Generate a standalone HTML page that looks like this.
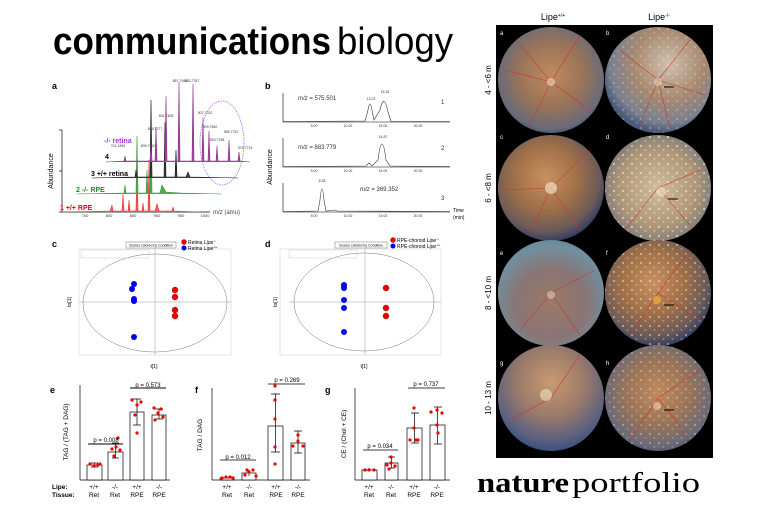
<!DOCTYPE html>
<html><head><meta charset="utf-8"><style>
html,body{margin:0;padding:0;background:#fff;}
svg{display:block;font-family:"Liberation Sans",sans-serif;}
</style></head><body>
<svg width="768" height="512" viewBox="0 0 768 512" xmlns="http://www.w3.org/2000/svg">
<defs>
<radialGradient id="fa" cx="0.5" cy="0.45" r="0.6">
<stop offset="0" stop-color="#c08a60"/><stop offset="0.5" stop-color="#9a7458"/><stop offset="0.85" stop-color="#6a6a78"/><stop offset="1" stop-color="#3a4a6a"/></radialGradient>
<radialGradient id="fb" cx="0.6" cy="0.35" r="0.65">
<stop offset="0" stop-color="#d0c0b0"/><stop offset="0.5" stop-color="#a88a70"/><stop offset="0.85" stop-color="#7a8090"/><stop offset="1" stop-color="#4a5a78"/></radialGradient>
<radialGradient id="fc" cx="0.45" cy="0.4" r="0.6">
<stop offset="0" stop-color="#c89060"/><stop offset="0.5" stop-color="#a07048"/><stop offset="0.85" stop-color="#6a5a5a"/><stop offset="1" stop-color="#3a4060"/></radialGradient>
<radialGradient id="fd" cx="0.5" cy="0.5" r="0.6">
<stop offset="0" stop-color="#d0bca0"/><stop offset="0.6" stop-color="#b09878"/><stop offset="1" stop-color="#6a7080"/></radialGradient>
<radialGradient id="fe" cx="0.5" cy="0.6" r="0.65">
<stop offset="0" stop-color="#9a7a6a"/><stop offset="0.5" stop-color="#8a7474"/><stop offset="0.85" stop-color="#7090a0"/><stop offset="1" stop-color="#5a8090"/></radialGradient>
<radialGradient id="fg" cx="0.5" cy="0.35" r="0.65">
<stop offset="0" stop-color="#c89a70"/><stop offset="0.5" stop-color="#9a7a6a"/><stop offset="0.85" stop-color="#5a6080"/><stop offset="1" stop-color="#3a5080"/></radialGradient>
<pattern id="sp" width="9" height="9" patternUnits="userSpaceOnUse">
<circle cx="2" cy="2" r="1.1" fill="#fff4d8" opacity="0.6"/><circle cx="6.5" cy="6" r="0.9" fill="#fff4d8" opacity="0.5"/></pattern>
</defs>

<!-- header -->
<text x="53" y="54" font-size="38" font-weight="bold" textLength="278" lengthAdjust="spacingAndGlyphs">communications</text>
<text x="337" y="54" font-size="38" textLength="116" lengthAdjust="spacingAndGlyphs">biology</text>

<!-- panel a -->
<text x="52" y="89" font-size="9" font-weight="bold">a</text>
<g stroke="#000" stroke-width="0.7" fill="none">
<line x1="62" y1="130" x2="62" y2="212"/><line x1="59" y1="212" x2="210" y2="212"/>
<line x1="59" y1="130" x2="62" y2="130"/><line x1="59" y1="171" x2="62" y2="171"/>
</g>
<text font-size="7" transform="translate(53,171) rotate(-90)" text-anchor="middle">Abundance</text>
<g font-size="4" fill="#333" text-anchor="middle"><text x="85" y="217">750</text><text x="109" y="217">800</text><text x="133" y="217">850</text><text x="157" y="217">900</text><text x="181" y="217">950</text><text x="205" y="217">1000</text></g>
<text x="213" y="214" font-size="6" fill="#444"><tspan font-style="italic">m/z</tspan> (amu)</text>
<path d="M62 212 L110 211 L112 205 L113 211 L122 211 L123 194 L124 211 L128 211 L129 200 L130 211 L136 211 L137 152 L138 211 L142 211 L143 203 L144 211 L148 211 L149 160 L150 211 L155 211 L157 204 L159 211 L172 211 L173 207 L174 211 L200 212" fill="#f55" stroke="#e33" stroke-width="0.6"/>
<text x="60" y="210" font-size="7" fill="#e00" font-weight="bold">1 +/+ RPE</text>
<path d="M77 194 L124 193 L125 185 L126 193 L136 193 L137 136 L138 193 L146 193 L147 170 L148 193 L150 193 L151 114 L152 193 L160 193 L162 185 L166 192 L180 193 L222 194" fill="#5a5" stroke="#393" stroke-width="0.6"/>
<text x="76" y="192" font-size="7" fill="#282" font-weight="bold">2 -/- RPE</text>
<path d="M92 178 L135 177 L136 170 L137 177 L150 177 L151 100 L152 177 L164 177 L165 122 L166 177 L175 177 L176 150 L177 177 L186 177 L188 172 L190 177 L238 178" fill="#444" stroke="#111" stroke-width="0.6"/>
<text x="91" y="176" font-size="7" fill="#000" font-weight="bold">3 +/+ retina</text>
<path d="M106 162 L124 161 L125 156 L126 161 L150 161 L151 143 L152 161 L155 161 L156 127 L157 161 L165 161 L166 96 L167 161 L178 161 L179 82 L180 161 L192 161 L193 84 L194 161 L202 161 L203 118 L204 161 L208 161 L209 131 L210 161 L216 161 L217 146 L218 161 L228 161 L229 140 L230 161 L238 161 L239 152 L240 161 L250 162" fill="#a4a" stroke="#838" stroke-width="0.6"/>
<text x="104" y="143" font-size="7" fill="#a3e" font-weight="bold">-/- retina</text>
<text x="105" y="159" font-size="7" font-weight="bold">4</text>
<g font-size="3.5" fill="#333" text-anchor="middle"><text x="118" y="147">741.1845</text><text x="148" y="147">805.7310</text><text x="155" y="130">829.7277</text><text x="166" y="117">831.7408</text><text x="180" y="82">857.7941</text><text x="192" y="82">883.7787</text><text x="205" y="114">907.7702</text><text x="210" y="128">909.7840</text><text x="217" y="141">933.7798</text><text x="231" y="133">955.7720</text><text x="245" y="149">979.7719</text></g>
<ellipse cx="222" cy="143" rx="22" ry="42" fill="none" stroke="#a6f" stroke-width="0.8" stroke-dasharray="1.5 1"/>

<!-- panel b -->
<text x="265" y="89" font-size="9" font-weight="bold">b</text>
<text font-size="7" transform="translate(272,167) rotate(-90)" text-anchor="middle">Abundance</text>
<g stroke="#000" stroke-width="0.6" fill="none">
<line x1="283" y1="93" x2="283" y2="122"/><line x1="283" y1="122" x2="450" y2="122"/>
<line x1="283" y1="138" x2="283" y2="167"/><line x1="283" y1="167" x2="450" y2="167"/>
<line x1="283" y1="183" x2="283" y2="212"/><line x1="283" y1="212" x2="450" y2="212"/>
<path d="M283 121.5 L365 121 L368 110 Q370 98 372 110 L374 120 L380 110 Q384 92 388 112 L391 121.5 L450 121.5" stroke="#333"/>
<path d="M283 166.5 L366 166 L369 163 L372 166 L378 160 Q382 128 386 160 L390 166 L450 166.5" stroke="#333"/>
<path d="M283 211.5 L318 211 L320 200 Q322 178 324 200 L326 211 L335 210 L337 211 L450 211.5" stroke="#333"/>
</g>
<g font-size="3.5" fill="#333" text-anchor="middle"><text x="314" y="127">5.00</text><text x="348" y="127">10.00</text><text x="383" y="127">15.00</text><text x="418" y="127">20.00</text>
<text x="314" y="172">5.00</text><text x="348" y="172">10.00</text><text x="383" y="172">15.00</text><text x="418" y="172">20.00</text>
<text x="314" y="217">5.00</text><text x="348" y="217">10.00</text><text x="383" y="217">15.00</text><text x="418" y="217">20.00</text>
<text x="371" y="100">13.23</text><text x="385" y="93">15.16</text><text x="383" y="138">14.87</text><text x="322" y="182">6.38</text></g>
<g font-size="6" fill="#333"><text x="298" y="100"><tspan font-style="italic">m/z</tspan> = 575.501</text><text x="298" y="149"><tspan font-style="italic">m/z</tspan> = 883.779</text><text x="360" y="191"><tspan font-style="italic">m/z</tspan> = 369.352</text>
<text x="441" y="104">1</text><text x="441" y="150">2</text><text x="441" y="200">3</text></g>
<text x="453" y="212" font-size="5">Time</text><text x="453" y="219" font-size="5">(min)</text>

<!-- panel c / d -->
<text x="52" y="247" font-size="9" font-weight="bold">c</text>
<g stroke="#999" stroke-width="0.5" fill="none">
<rect x="79" y="249" width="152" height="106" stroke="#ccc"/>
<line x1="79" y1="302" x2="231" y2="302"/><line x1="155" y1="249" x2="155" y2="355"/>
<ellipse cx="155" cy="303" rx="72" ry="49" stroke="#777"/>
<rect x="126" y="242" width="50" height="6" stroke="#777"/>
<rect x="81" y="250" width="68" height="8" stroke="#ccc"/>
<line x1="289" y1="302" x2="441" y2="302"/>
<rect x="280" y="249" width="161" height="106" stroke="#ccc"/>
<line x1="365" y1="249" x2="365" y2="355"/>
<ellipse cx="364" cy="302" rx="70" ry="49" stroke="#777"/>
<rect x="335" y="242" width="52" height="6" stroke="#777"/>
<rect x="289" y="250" width="68" height="8" stroke="#ccc"/>
</g>
<text x="151" y="246.5" font-size="3.5" text-anchor="middle">Scores colored by Condition</text>
<text x="361" y="246.5" font-size="3.5" text-anchor="middle">Scores colored by Condition</text>
<g fill="#00e"><circle cx="134" cy="284" r="3"/><circle cx="132" cy="289" r="3"/><circle cx="134" cy="299" r="3"/><circle cx="134" cy="301" r="3"/><circle cx="134" cy="337" r="3"/>
<circle cx="184" cy="248" r="2.5"/>
<circle cx="344" cy="285" r="3"/><circle cx="344" cy="288" r="3"/><circle cx="344" cy="300" r="3"/><circle cx="344" cy="308" r="3"/><circle cx="344" cy="332" r="3"/>
<circle cx="393" cy="246" r="2.5"/></g>
<g fill="#e00" stroke="#800" stroke-width="0.4"><circle cx="175" cy="290" r="3"/><circle cx="175" cy="297" r="3"/><circle cx="175" cy="310" r="3"/><circle cx="175" cy="316" r="3"/>
<circle cx="184" cy="242" r="2.5"/>
<circle cx="386" cy="288" r="3"/><circle cx="386" cy="308" r="3"/><circle cx="386" cy="316" r="3"/>
<circle cx="393" cy="240" r="2.5"/></g>
<g font-size="5"><text x="188" y="244">Retina <tspan font-style="italic">Lipe</tspan><tspan font-size="3" dy="-2">-/-</tspan></text><text x="188" y="250">Retina <tspan font-style="italic">Lipe</tspan><tspan font-size="3" dy="-2">+/+</tspan></text>
<text x="397" y="242">RPE-choroid <tspan font-style="italic">Lipe</tspan><tspan font-size="3" dy="-2">-/-</tspan></text><text x="397" y="248">RPE-choroid <tspan font-style="italic">Lipe</tspan><tspan font-size="3" dy="-2">+/+</tspan></text>
<text x="154" y="368" text-anchor="middle">t[1]</text><text x="364" y="368" text-anchor="middle">t[1]</text></g>
<text font-size="5" transform="translate(71,302) rotate(-90)" text-anchor="middle">to[1]</text>
<text font-size="5" transform="translate(277,302) rotate(-90)" text-anchor="middle">to[1]</text>
<text x="265" y="247" font-size="9" font-weight="bold">d</text>

<!-- panels e f g -->
<text x="50" y="393" font-size="9" font-weight="bold">e</text>
<text x="195" y="393" font-size="9" font-weight="bold">f</text>
<text x="325" y="393" font-size="9" font-weight="bold">g</text>
<g stroke="#000" stroke-width="0.7" fill="#fff">
<line x1="80" y1="385" x2="80" y2="480"/><line x1="80" y1="480" x2="170" y2="480"/>
<rect x="87" y="465" width="15" height="15"/><rect x="108" y="452" width="15" height="28"/><rect x="130" y="412" width="14" height="68"/><rect x="152" y="415" width="14" height="65"/>
<path d="M94.5 463 v4 M91 463 h7 M91 467 h7 M115.5 443 v15 M112 443 h7 M112 458 h7 M137 399 v26 M133 399 h8 M133 425 h8 M159 409 v10 M155 409 h8 M155 419 h8" fill="none"/>
<path d="M88 444 h35 M130 388 h36" fill="none" stroke-width="1"/>
<line x1="212" y1="388" x2="212" y2="480"/><line x1="212" y1="480" x2="310" y2="480"/>
<rect x="220" y="478" width="14" height="2"/><rect x="242" y="473" width="14" height="7"/><rect x="268" y="426" width="15" height="54"/><rect x="291" y="443" width="14" height="37"/>
<path d="M249 470 v6 M275.5 394 v58 M271 394 h9 M271 452 h9 M298 431 v22 M294 431 h8 M294 453 h8 M220 460 h36 M268 384 h37" fill="none"/>
<line x1="355" y1="388" x2="355" y2="480"/><line x1="355" y1="480" x2="450" y2="480"/>
<rect x="362" y="470" width="15" height="10"/><rect x="385" y="463" width="13" height="17"/><rect x="407" y="428" width="15" height="52"/><rect x="430" y="425" width="15" height="55"/>
<path d="M369.5 468 v3 M391.5 457 v11 M388 457 h7 M388 468 h7 M414.5 413 v30 M411 413 h8 M411 443 h8 M437.5 407 v37 M434 407 h8 M434 444 h8 M363 450 h35 M408 388 h37" fill="none"/>
</g>
<g fill="#e00">
<circle cx="90" cy="464" r="1.6"/><circle cx="94" cy="466" r="1.6"/><circle cx="98" cy="465" r="1.6"/><circle cx="100" cy="464" r="1.6"/>
<circle cx="112" cy="449" r="1.6"/><circle cx="116" cy="447" r="1.6"/><circle cx="120" cy="450" r="1.6"/><circle cx="114" cy="456" r="1.6"/><circle cx="118" cy="438" r="1.6"/>
<circle cx="132" cy="400" r="1.6"/><circle cx="137" cy="405" r="1.6"/><circle cx="141" cy="402" r="1.6"/><circle cx="137" cy="433" r="1.6"/><circle cx="135" cy="415" r="1.6"/>
<circle cx="154" cy="408" r="1.6"/><circle cx="158" cy="413" r="1.6"/><circle cx="163" cy="417" r="1.6"/><circle cx="155" cy="420" r="1.6"/><circle cx="161" cy="409" r="1.6"/>
<circle cx="222" cy="478" r="1.6"/><circle cx="226" cy="477" r="1.6"/><circle cx="230" cy="477" r="1.6"/><circle cx="233" cy="478" r="1.6"/>
<circle cx="245" cy="475" r="1.6"/><circle cx="249" cy="472" r="1.6"/><circle cx="253" cy="470" r="1.6"/><circle cx="256" cy="476" r="1.6"/><circle cx="247" cy="470" r="1.6"/>
<circle cx="275" cy="386" r="1.6"/><circle cx="275" cy="400" r="1.6"/><circle cx="275" cy="419" r="1.6"/><circle cx="275" cy="447" r="1.6"/><circle cx="275" cy="464" r="1.6"/>
<circle cx="293" cy="446" r="1.6"/><circle cx="298" cy="435" r="1.6"/><circle cx="303" cy="446" r="1.6"/><circle cx="298" cy="441" r="1.6"/>
<circle cx="365" cy="470" r="1.6"/><circle cx="369" cy="470" r="1.6"/><circle cx="374" cy="470" r="1.6"/>
<circle cx="387" cy="465" r="1.6"/><circle cx="391" cy="463" r="1.6"/><circle cx="395" cy="466" r="1.6"/><circle cx="391" cy="457" r="1.6"/><circle cx="389" cy="469" r="1.6"/>
<circle cx="414" cy="408" r="1.6"/><circle cx="410" cy="440" r="1.6"/><circle cx="418" cy="440" r="1.6"/><circle cx="414" cy="428" r="1.6"/><circle cx="416" cy="440" r="1.6"/>
<circle cx="431" cy="412" r="1.6"/><circle cx="437" cy="410" r="1.6"/><circle cx="442" cy="413" r="1.6"/><circle cx="437" cy="425" r="1.6"/><circle cx="438" cy="433" r="1.6"/>
</g>
<g font-size="6" text-anchor="middle"><text x="106" y="442">p = 0.008</text><text x="148" y="387">p = 0.573</text><text x="238" y="459">p = 0.012</text><text x="287" y="382">p = 0.269</text><text x="380" y="448">p = 0.034</text><text x="426" y="386">p = 0.737</text></g>
<g font-size="6.5" text-anchor="middle">
<text transform="translate(68,432) rotate(-90)">TAG / (TAG + DAG)</text>
<text transform="translate(202,435) rotate(-90)">TAG / DAG</text>
<text transform="translate(346,434) rotate(-90)">CE / (Chol + CE)</text>
</g>
<g font-size="6.5" font-weight="bold"><text x="52" y="489">Lipe:</text><text x="52" y="497">Tissue:</text></g>
<g font-size="6.5" text-anchor="middle">
<text x="94" y="489">+/+</text><text x="115" y="489">-/-</text><text x="137" y="489">+/+</text><text x="159" y="489">-/-</text>
<text x="94" y="497">Ret</text><text x="115" y="497">Ret</text><text x="137" y="497">RPE</text><text x="159" y="497">RPE</text>
<text x="227" y="489">+/+</text><text x="249" y="489">-/-</text><text x="276" y="489">+/+</text><text x="298" y="489">-/-</text>
<text x="227" y="497">Ret</text><text x="249" y="497">Ret</text><text x="276" y="497">RPE</text><text x="298" y="497">RPE</text>
<text x="369" y="489">+/+</text><text x="391" y="489">-/-</text><text x="414" y="489">+/+</text><text x="437" y="489">-/-</text>
<text x="369" y="497">Ret</text><text x="391" y="497">Ret</text><text x="414" y="497">RPE</text><text x="437" y="497">RPE</text>
</g>

<!-- fundus panel -->
<text x="553" y="20" font-size="9" text-anchor="middle">Lipe<tspan font-size="5" dy="-3">+/+</tspan></text>
<text x="659" y="20" font-size="9" text-anchor="middle">Lipe<tspan font-size="5" dy="-3">-/-</tspan></text>
<rect x="496" y="25" width="217" height="433" fill="#000"/>
<circle cx="551" cy="80" r="53" fill="url(#fa)"/>
<circle cx="658" cy="80" r="53" fill="url(#fb)"/>
<circle cx="551" cy="188" r="53" fill="url(#fc)"/>
<circle cx="658" cy="188" r="53" fill="url(#fd)"/>
<circle cx="551" cy="293" r="53" fill="url(#fe)"/>
<circle cx="658" cy="293" r="53" fill="url(#fc)"/>
<circle cx="551" cy="398" r="53" fill="url(#fg)"/>
<circle cx="658" cy="398" r="53" fill="url(#fa)"/>
<circle cx="658" cy="80" r="53" fill="url(#sp)" opacity="0.5"/>
<circle cx="658" cy="188" r="53" fill="url(#sp)"/>
<circle cx="658" cy="293" r="53" fill="url(#sp)" opacity="0.8"/>
<circle cx="658" cy="398" r="53" fill="url(#sp)" opacity="0.6"/>
<g stroke="#c33" stroke-width="0.8" fill="none" opacity="0.7">
<path d="M551 82 L580 35 M551 82 L505 70 M551 82 L590 110 M551 82 L530 125 M551 82 L520 45 M658 80 L690 40 M658 80 L620 50 M658 80 L705 95 M658 80 L640 125 M658 80 L670 128 M551 188 L590 150 M551 188 L505 190 M551 188 L580 230 M551 188 L530 232 M658 188 L700 170 M658 188 L625 230 M658 188 L690 225 M551 293 L595 270 M551 293 L520 330 M551 293 L580 335 M658 293 L690 250 M658 293 L630 335 M658 293 L700 320 M551 398 L580 355 M551 398 L510 420 M658 398 L700 370 M658 398 L630 440 M658 398 L690 440"/>
</g>
<g fill="#f0e0c0"><circle cx="551" cy="82" r="4" opacity="0.6"/><circle cx="658" cy="82" r="4" opacity="0.5"/><circle cx="551" cy="188" r="6" opacity="0.7"/><circle cx="661" cy="192" r="5" opacity="0.6"/><circle cx="551" cy="295" r="4" opacity="0.5"/><circle cx="657" cy="300" r="4" fill="#e0a040"/><circle cx="546" cy="395" r="6" opacity="0.6"/><circle cx="657" cy="406" r="4" opacity="0.5"/></g>
<g fill="#fff" font-size="6"><text x="500" y="35">a</text><text x="606" y="35">b</text><text x="500" y="139">c</text><text x="606" y="139">d</text><text x="500" y="255">e</text><text x="606" y="255">f</text><text x="500" y="365">g</text><text x="606" y="365">h</text></g>
<g stroke="#000" stroke-width="1"><line x1="664" y1="87" x2="674" y2="87"/><line x1="668" y1="199" x2="678" y2="199"/><line x1="664" y1="305" x2="674" y2="305"/><line x1="664" y1="410" x2="674" y2="410"/></g>
<g font-size="8" text-anchor="middle">
<text transform="translate(491,80) rotate(-90)">4 - &lt;6 m</text>
<text transform="translate(491,188) rotate(-90)">6 - &lt;8 m</text>
<text transform="translate(491,293) rotate(-90)">8 - &lt;10 m</text>
<text transform="translate(491,398) rotate(-90)">10 - 13 m</text>
</g>
<text x="477" y="492" font-size="29" font-family="Liberation Serif, serif" font-weight="bold" textLength="92" lengthAdjust="spacingAndGlyphs">nature</text>
<text x="572" y="492" font-size="29" font-family="Liberation Serif, serif" textLength="128" lengthAdjust="spacingAndGlyphs">portfolio</text>
</svg>
</body></html>
